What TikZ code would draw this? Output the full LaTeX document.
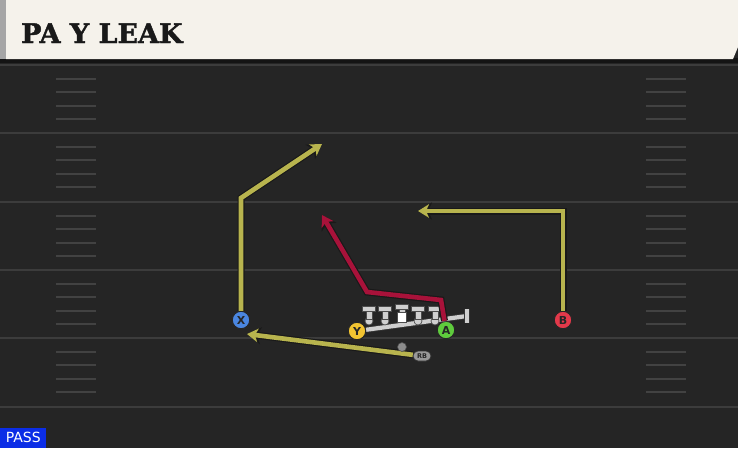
\documentclass[tikz,border=0pt]{standalone}
\usepackage{fontspec}
\setsansfont{DejaVu Sans}
\newfontfamily\titlefont[BoldFeatures={FakeBold=1.6}]{DejaVu Serif}
\usetikzlibrary{arrows.meta,shapes.misc}
\definecolor{fieldbg}{HTML}{252525}
\definecolor{yardline}{HTML}{3C3C3C}
\definecolor{hashline}{HTML}{424242}
\definecolor{cream}{HTML}{F5F2EB}
\definecolor{routeyel}{HTML}{B8B44E}
\definecolor{routered}{HTML}{A8123A}
\definecolor{xblue}{HTML}{4A86E0}
\definecolor{yyel}{HTML}{F2C431}
\definecolor{agreen}{HTML}{5FCB3D}
\definecolor{bred}{HTML}{E3394A}
\definecolor{blockgray}{HTML}{CFCFCF}
\definecolor{passblue}{HTML}{0B2DE6}
\tikzset{
	player/.style={circle, draw=black!85, line width=1pt, minimum size=17.5pt, inner sep=0pt, font=\sffamily\bfseries\fontsize{11}{11}\selectfont, text=black!85},
	route/.style={line width=4.6pt, line join=miter, -{Stealth[length=11pt,width=13.5pt,inset=3pt]},
		preaction={draw=black!90, line width=7pt, -{Stealth[length=14pt,width=17pt,inset=4pt]}}},
	tman/.style={draw=black!70, fill=blockgray, line width=0.7pt}
}
\begin{document}
\begin{tikzpicture}[x=1pt,y=-1pt]
		\fill[fieldbg] (0,0) rectangle (738,448);
		\useasboundingbox (0,0) rectangle (738,448);
		
		\foreach \y in {65,133,202,270,338,407} {
			\draw[yardline, line width=2.6pt] (0,\y) -- (738,\y);
		}
		\foreach \y in {65,133,202,270,338} {
			\foreach \k in {1,2,3,4} {
				\draw[hashline, line width=2pt] (56,\y+13.6*\k) -- (96,\y+13.6*\k);
				\draw[hashline, line width=2pt] (646,\y+13.6*\k) -- (686,\y+13.6*\k);
			}
		}
		
		\fill[black!92] (0,58) rectangle (738,63);
		\fill[cream] (6,0) -- (738,0) -- (738,47) -- (733,59) -- (6,59) -- cycle;
		\fill[black!35] (0,0) rectangle (6,59);
		\node[anchor=base west, inner sep=0pt, font=\titlefont\bfseries\fontsize{27}{27}\selectfont, text=black!90] (title) at (21,43) {PA Y LEAK};
		
		\node[player, fill=xblue] (X) at (241,320) {X};
		\node[player, fill=yyel] (Y) at (357,331) {Y};
		\node[player, fill=agreen] (A) at (446,330) {A};
		\node[player, fill=bred] (B) at (563,320) {B};
		\node[rounded rectangle, draw=black!80, fill=black!40, line width=0.7pt, minimum width=18pt, minimum height=10pt, inner sep=0pt, font=\sffamily\bfseries\fontsize{6.5}{6.5}\selectfont, text=black!85] (RB) at (422,356) {RB};
		
		\coordinate (blockend) at (467,316);
		\draw[black!80, line width=6pt] (Y) -- (blockend);
		\draw[blockgray, line width=4.2pt] (Y) -- (blockend);
		\draw[blockgray, line width=3.6pt, preaction={draw=black!80, line width=5.4pt}] (467,309) -- (467,323);
		
		\foreach \x in {369,385,418,435} {
			\fill[tman] (\x,321) circle (4pt);
			\filldraw[tman] (\x-6.5,306.5) rectangle (\x+6.5,311.5) (\x-3,311.5) rectangle (\x+3,319);
		}
		\filldraw[tman] (395.5,304) rectangle (408.5,309) (399,309) rectangle (405,313);
		\filldraw[draw=black!70, fill=white, line width=0.7pt] (397.5,312.5) rectangle (406.5,322);
		
		\coordinate (xtop) at (241,198);
		\coordinate (xend) at (322,144);
		\coordinate (btop) at (563,211);
		\coordinate (bend) at (418,211);
		\coordinate (rbend) at (247,334);
		\coordinate (acut) at (441,300);
		\coordinate (ajoin) at (367,292);
		\coordinate (aend) at (322,215);
		
		\draw[route, routeyel] (X) -- (xtop) -- (xend);
		\draw[route, routeyel] (B) -- (btop) -- (bend);
		\draw[route, routeyel] (RB) -- (rbend);
		\draw[route, routered] (A) -- (acut) -- (ajoin) -- (aend);
		
		\filldraw[draw=black!70, fill=black!45, line width=0.6pt] (402,347) circle (4.5pt);
		
		\node[anchor=south west, fill=passblue, text=white, minimum width=46pt, minimum height=20pt, inner sep=0pt, font=\sffamily\fontsize{14}{14}\selectfont] (pass) at (0,448) {PASS};
	\end{tikzpicture}
\end{document}
